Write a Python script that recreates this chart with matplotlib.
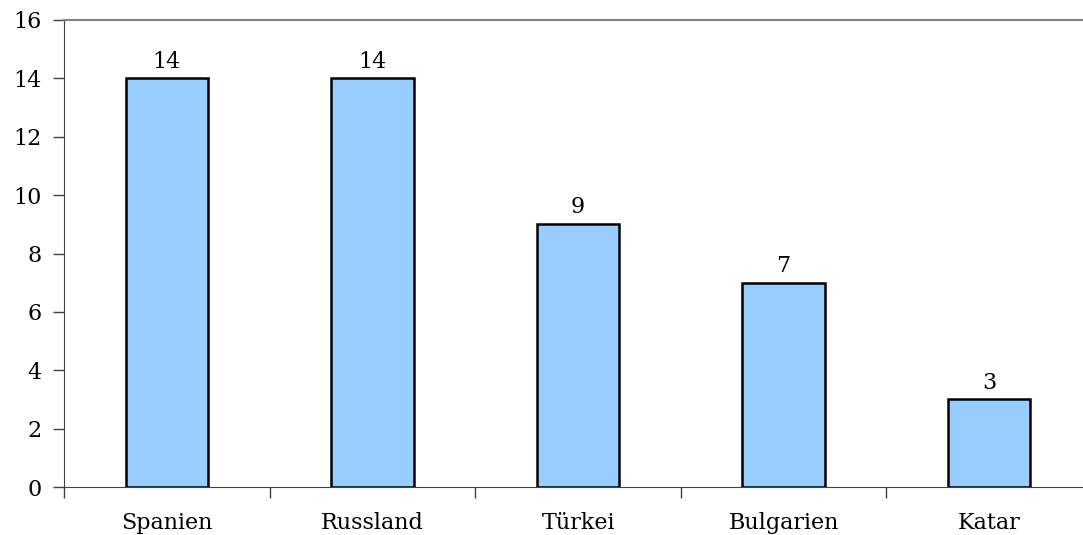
import numpy as np
import matplotlib
matplotlib.use("Agg")
import matplotlib.pyplot as plt

# Werte aus dem Diagramm
laender = ["Spanien", "Russland", "Türkei", "Bulgarien", "Katar"]
anzahl = [14, 14, 9, 7, 3]

plt.rcParams['font.family'] = ['DejaVu Serif']

fig = plt.figure(figsize=(10.83, 5.35), dpi=100)
ax = fig.add_axes([64 / 1083, 48 / 535, 1028 / 1083, 467 / 535])

x = np.arange(len(laender))
ax.bar(x, anzahl, width=0.40, color="#99ccff", edgecolor="black", linewidth=1.8, zorder=3)

for xi, v in zip(x, anzahl):
    ax.text(xi, v + 0.2, str(v), ha="center", va="bottom", fontsize=16)

ax.set_xlim(-0.5, len(laender) - 0.5)
ax.set_ylim(0, 16)
ax.set_yticks(np.arange(0, 17, 2))
ax.set_xticks(x)
ax.set_xticklabels(laender, fontsize=16)
ax.set_xticks(np.arange(-0.5, len(laender), 1), minor=True)
ax.tick_params(axis="x", which="major", length=0, pad=18)
ax.tick_params(axis="x", which="minor", length=8, width=1, color="#404040", direction="out")
ax.tick_params(axis="y", length=8, width=1, color="#404040", direction="out", labelsize=16, pad=8)

ax.spines["left"].set_color("#404040")
ax.spines["bottom"].set_color("#404040")
ax.spines["top"].set_color("#808080")
ax.spines["top"].set_linewidth(1.5)
ax.spines["right"].set_visible(False)

fig.savefig("out.png", dpi=100)
